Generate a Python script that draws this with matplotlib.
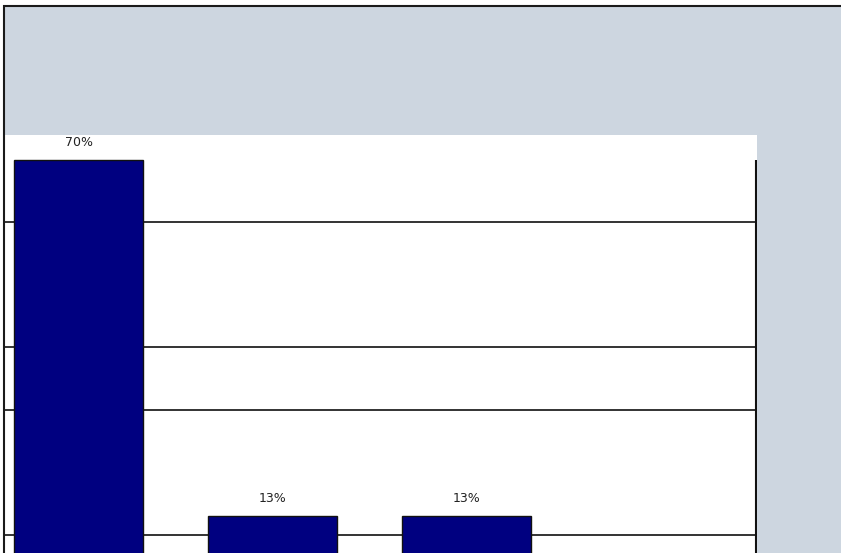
import matplotlib
matplotlib.use("Agg")
import matplotlib.pyplot as plt
from matplotlib.patches import Rectangle

# Chart data
categories = ["A", "B", "C"]
values = [70, 13, 13]
labels = ["70%", "13%", "13%"]
grid_levels = [10, 30, 40, 60]
plot_top = 70

W, H = 841, 553
fig = plt.figure(figsize=(W / 100, H / 100), dpi=100, facecolor="white")

# Outer chart frame with the blue-grey background
frame_fill = Rectangle((4 / W, -0.2), 1.2, 1 - 6 / H + 0.2, transform=fig.transFigure,
                       facecolor="#cdd6e0", edgecolor="none", zorder=-5, clip_on=False)
fig.add_artist(frame_fill)
frame_edge = Rectangle((4 / W, -0.2), 1.2, 1 - 6 / H + 0.2, transform=fig.transFigure,
                       facecolor="none", edgecolor="#1a1a1a", linewidth=1.5,
                       zorder=20, clip_on=False)
fig.add_artist(frame_edge)

ax = fig.add_axes([5 / W, 0, (757 - 5) / W, (H - 135) / H])
ax.set_zorder(5)
ax.set_facecolor("white")
ax.set_xlim(-0.379, 3.497)
ax.set_ylim(7.04, 73.97)
for s in ax.spines.values():
    s.set_visible(False)
ax.set_xticks([])
ax.set_yticks([])

for g in grid_levels:
    ax.axhline(g, color="#333333", linewidth=1.4, zorder=1)

# Right edge of the plot area
x_right = ax.get_xlim()[1] - 0.005
ax.plot([x_right, x_right], [0, plot_top], color="#111111", linewidth=1.5, zorder=3,
        solid_capstyle="butt")

xs = list(range(len(categories)))
bars = ax.bar(xs, values, width=0.665, color="#000080", edgecolor="#111111",
              linewidth=1.0, zorder=2)

for b, lab in zip(bars, labels):
    ax.annotate(lab, (b.get_x() + b.get_width() / 2, b.get_height()),
                xytext=(0, 12.5), textcoords="offset points", ha="center", va="center",
                fontsize=9, color="#222222", family="DejaVu Sans")

fig.savefig("out.png", dpi=100, facecolor=fig.get_facecolor())
